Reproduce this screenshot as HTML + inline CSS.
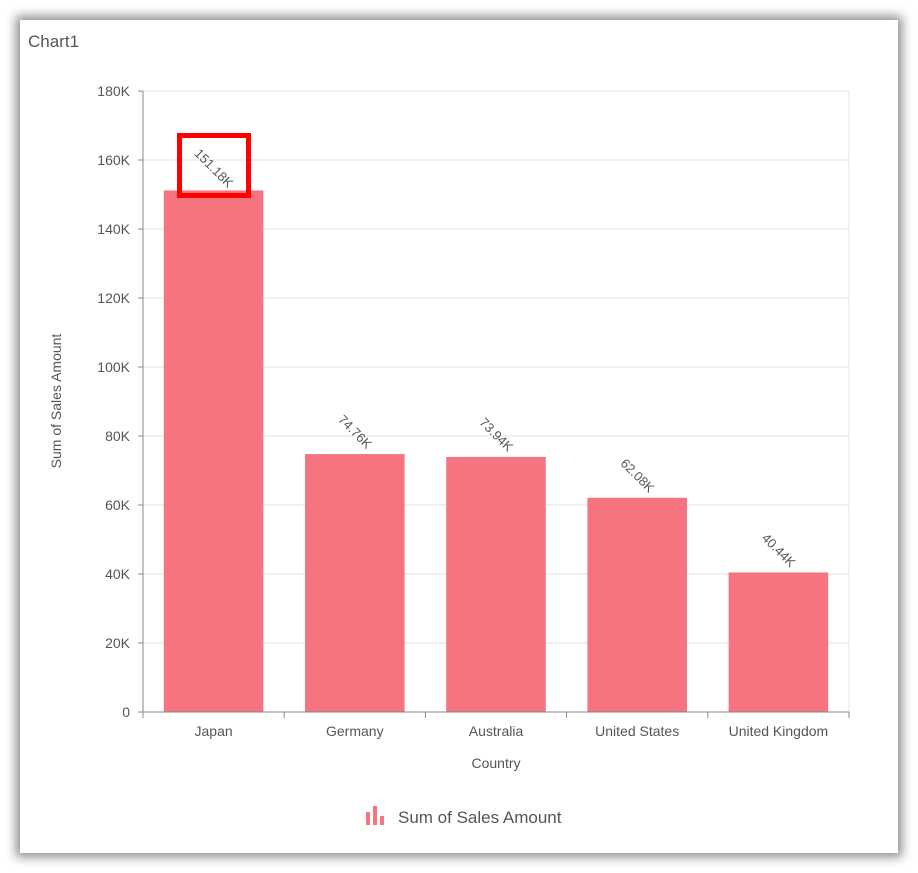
<!DOCTYPE html>
<html><head><meta charset="utf-8"><style>
html,body{margin:0;padding:0;background:#fff;width:918px;height:873px;overflow:hidden;font-family:"Liberation Sans",Roboto,sans-serif}
#panel{position:absolute;left:20px;top:20px;width:878px;height:833px;background:#fff;box-shadow:0 0 10px 4px rgba(0,0,0,0.45)}
</style></head><body>
<div id="panel"></div>
<svg id="c" width="918" height="873" style="position:absolute;left:0;top:0">
<text x="28" y="47" font-size="17" fill="#555">Chart1</text>
</svg>
<script>
const categories=["Japan","Germany","Australia","United States","United Kingdom"];
const values=[151180,74760,73940,62080,40440];
const valueLabels=["151.18K","74.76K","73.94K","62.08K","40.44K"];
const yTicks=[0,20000,40000,60000,80000,100000,120000,140000,160000,180000];
const yTickLabels=["0","20K","40K","60K","80K","100K","120K","140K","160K","180K"];
const svg=document.getElementById('c');const NS='http://www.w3.org/2000/svg';
const L=143,R=849,T=91,B=712,yMax=180000;
const y=v=>B-(v/yMax)*(B-T);
const bw=(R-L)/categories.length;
const x=i=>L+bw*i;
function mk(t,a,txt){const e=document.createElementNS(NS,t);for(const k in a)e.setAttribute(k,a[k]);if(txt!=null)e.textContent=txt;svg.appendChild(e);return e;}
yTicks.forEach((v,i)=>{
 const g=mk('line',{x1:L,x2:R,y1:y(v),y2:y(v),stroke:i==0?'#fff':'#e0e0e0','stroke-width':1});
 
 
 mk('line',{x1:L-5,x2:L,y1:y(v),y2:y(v),stroke:'#888'});
 const t=mk('text',{x:L-13,y:y(v)+5,'text-anchor':'end','font-size':14,fill:'#555'},yTickLabels[i]);
 
 
});
mk('line',{x1:R,x2:R,y1:T,y2:B,stroke:'#e6e6e6'});
values.forEach((v,i)=>{
 const cx=x(i)+bw/2, w=bw*0.705;
 const r=mk('rect',{x:cx-w/2,y:y(v),width:w,height:B-y(v),fill:'#f67480'});
 
 
 const ly=y(v)-22;
 const t=mk('text',{x:cx,y:ly+4,'text-anchor':'middle','font-size':13,fill:'#555',transform:`rotate(45 ${cx} ${ly})`},valueLabels[i]);
 
 
 const c=mk('text',{x:cx,y:B+24,'text-anchor':'middle','font-size':14,fill:'#555'},categories[i]);
 
 
});
for(let i=0;i<=categories.length;i++)mk('line',{x1:x(i),x2:x(i),y1:B,y2:B+6,stroke:'#888'});
mk('line',{x1:L,x2:L,y1:T,y2:B,stroke:'#888'});
mk('line',{x1:L,x2:R,y1:B,y2:B,stroke:'#888'});
const xt=mk('text',{x:496,y:768,'text-anchor':'middle','font-size':14,fill:'#555'},'Country');


const yt=mk('text',{x:61,y:401,'text-anchor':'middle','font-size':14,fill:'#555',transform:'rotate(-90 61 401)'},'Sum of Sales Amount');


const hl=mk('rect',{x:179.5,y:135.5,width:69,height:60,fill:'none',stroke:'#f00','stroke-width':5});


[[366,812,13],[373,806,19],[380,816,9]].forEach(a=>mk('rect',{x:a[0],y:a[1],width:4,height:a[2],fill:'#f67480'}));
const lg=mk('text',{x:398,y:823,'font-size':17,fill:'#555'},'Sum of Sales Amount');


</script>
</body></html>
